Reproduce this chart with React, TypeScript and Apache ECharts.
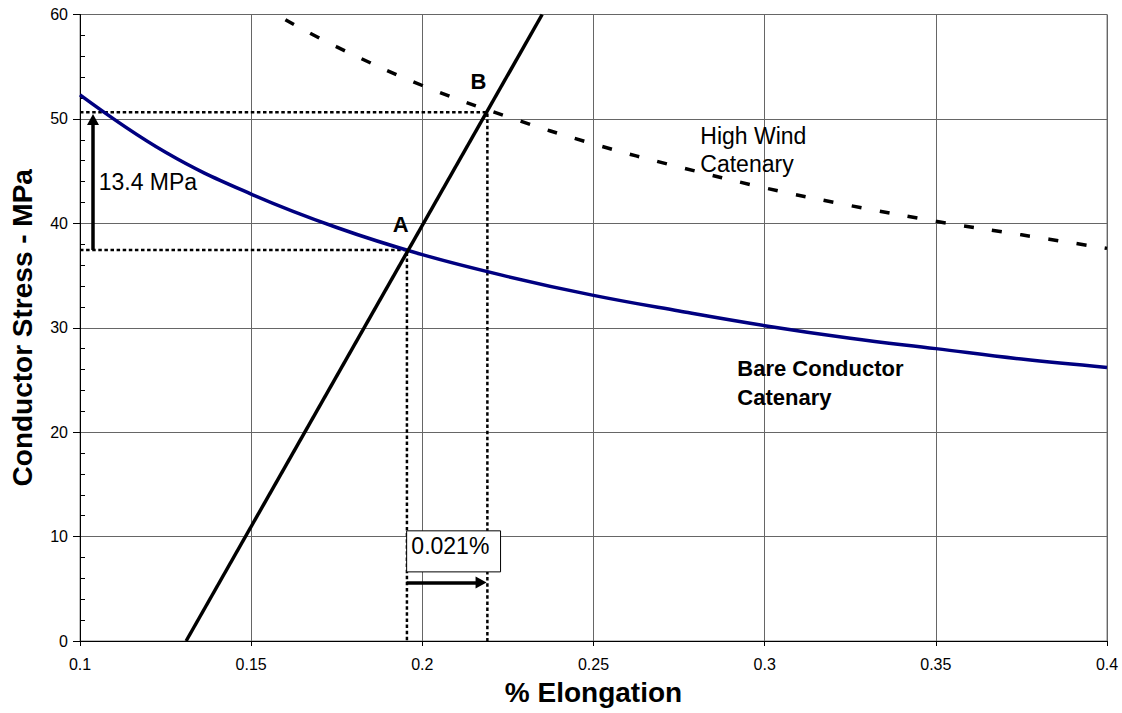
import React, { useEffect, useRef } from "react";
import * as echarts from "echarts";

// ---- data ----
const bareX = [0.1, 0.125, 0.15, 0.175, 0.2, 0.225, 0.25, 0.275, 0.3, 0.325, 0.35, 0.375, 0.4];
const bareY = [52.3, 46.8, 42.8, 39.6, 37.0, 34.9, 33.1, 31.6, 30.2, 29.0, 28.0, 27.0, 26.2];

const windX = [0.16, 0.175, 0.2, 0.225, 0.25, 0.275, 0.3, 0.325, 0.35, 0.375, 0.4];
const windY = [59.5, 56.9, 53.2, 50.2, 47.6, 45.4, 43.4, 41.7, 40.2, 38.9, 37.6];

const loadX = [0.131, 0.235];
const loadY = [0, 60];

const pointA = [0.1955, 37.45];
const pointB = [0.219, 50.65];

// arrows: [x1, y1, x2, y2]
const stressArrow = [0.1038, 37.45, 0.1038, 49.95];
const strainArrow = [0.1954, 5.6, 0.21716, 5.6];

// annotation texts and anchors (data units)
const noteTexts = ["A", "B", "High Wind\nCatenary", "Bare Conductor\nCatenary", "13.4 MPa", "0.021%"];
const noteAnchors = [
  [0.1937, 39.9],
  [0.2164, 53.6],
  [0.2812, 47.0],
  [0.292, 24.7],
  [0.10546, 44.0],
  [0.19679, 9.11],
];
const noteBold = [true, true, false, true, false, false];
const noteCentered = [true, true, false, false, false, false];
const boxCorners = [
  [0.19542, 10.55],
  [0.22285, 6.62],
];

const xTicks = { min: 0.1, max: 0.4, step: 0.05 };
const yTicks = { min: 0, max: 60, step: 10 };

const FONT = "'Liberation Sans', Arial, Helvetica, sans-serif";

const zip = (xs: number[], ys: number[]) => xs.map((x, i) => [x, ys[i]]);

export default function App() {
  const ref = useRef<HTMLDivElement>(null);

  useEffect(() => {
    if (!ref.current) return;
    const chart = echarts.init(ref.current, null, { renderer: "svg" });

    const dotted = {
      color: "#000",
      width: 2.5,
      type: [3.5, 2.6] as any,
      cap: "butt" as any,
    };

    const option: any = {
      animation: false,
      backgroundColor: "#fff",
      textStyle: { fontFamily: FONT },
      grid: {
        left: 79,
        right: 15,
        top: 14.5,
        bottom: 72,
        show: true,
        borderColor: "#808080",
        borderWidth: 1,
        backgroundColor: "transparent",
      },
      xAxis: {
        type: "value",
        min: xTicks.min,
        max: xTicks.max,
        interval: xTicks.step,
        name: "% Elongation",
        nameLocation: "middle",
        nameGap: 37,
        nameTextStyle: { fontSize: 28, fontWeight: "bold", color: "#000", fontFamily: FONT },
        axisLine: { show: true, onZero: false, lineStyle: { color: "#000", width: 1 } },
        axisTick: { show: true, length: 5, lineStyle: { color: "#000" } },
        axisLabel: {
          color: "#000",
          fontSize: 16,
          margin: 15,
          fontFamily: FONT,
          formatter: (v: number) => String(parseFloat(v.toFixed(2))),
        },
        splitLine: { show: true, lineStyle: { color: "#666", width: 1 } },
      },
      yAxis: [
        {
          type: "value",
          min: yTicks.min,
          max: yTicks.max,
          interval: yTicks.step,
          name: "Conductor Stress - MPa",
          nameLocation: "middle",
          nameGap: 44,
          nameTextStyle: { fontSize: 28, fontWeight: "bold", color: "#000", fontFamily: FONT },
          axisLine: { show: true, onZero: false, lineStyle: { color: "#000", width: 1 } },
          axisTick: { show: true, length: 7, lineStyle: { color: "#000" } },
          axisLabel: { color: "#000", fontSize: 16, margin: 12, fontFamily: FONT },
          splitLine: { show: true, lineStyle: { color: "#666", width: 1 } },
        },
        {
          type: "value",
          position: "left",
          min: yTicks.min,
          max: yTicks.max,
          interval: yTicks.step,
          axisLine: { show: false, onZero: false },
          axisTick: { show: false, inside: true },
          minorTick: { show: true, splitNumber: 5, length: 5, lineStyle: { color: "#000", width: 1 } },
          axisLabel: { show: false },
          splitLine: { show: false },
        },
      ],
      series: [
        {
          name: "Bare Conductor Catenary",
          type: "line",
          data: zip(bareX, bareY),
          smooth: 0.4,
          showSymbol: false,
          lineStyle: { color: "#000080", width: 3.5 },
          z: 5,
        },
        {
          name: "High Wind Catenary",
          type: "line",
          data: zip(windX, windY),
          smooth: 0.4,
          showSymbol: false,
          lineStyle: { color: "#000", width: 3.5, type: [10, 18.5], cap: "butt" },
          z: 5,
        },
        {
          name: "Load line",
          type: "line",
          data: zip(loadX, loadY),
          showSymbol: false,
          lineStyle: { color: "#000", width: 3.5 },
          z: 6,
        },
        {
          name: "B guide",
          type: "line",
          data: [
            [xTicks.min, pointB[1]],
            [pointB[0], pointB[1]],
            [pointB[0], yTicks.min],
          ],
          showSymbol: false,
          lineStyle: dotted,
          z: 4,
        },
        {
          name: "A guide",
          type: "line",
          data: [
            [xTicks.min, pointA[1]],
            [pointA[0], pointA[1]],
            [pointA[0], yTicks.min],
          ],
          showSymbol: false,
          lineStyle: dotted,
          z: 4,
        },
        {
          name: "arrows",
          type: "line",
          data: [],
          z: 7,
          markLine: {
            silent: true,
            symbol: ["none", "triangle"],
            symbolSize: [12, 11],
            label: { show: false },
            emphasis: { disabled: true },
            lineStyle: { color: "#000", width: 3.5, type: "solid" },
            data: [
              [
                { coord: [stressArrow[0], stressArrow[1]] },
                { coord: [stressArrow[2], stressArrow[3]] },
              ],
              [
                { coord: [strainArrow[0], strainArrow[1]] },
                { coord: [strainArrow[2], strainArrow[3]] },
              ],
            ],
          },
        },
      ],
    };

    chart.setOption(option);

    const px = (p: number[]) =>
      chart.convertToPixel({ xAxisIndex: 0, yAxisIndex: 0 }, p) as number[];

    const tl = px(boxCorners[0]);
    const br = px(boxCorners[1]);
    const graphics: any[] = [
      {
        type: "rect",
        z: 100,
        shape: { x: tl[0], y: tl[1], width: br[0] - tl[0], height: br[1] - tl[1] },
        style: { fill: "#fff", stroke: "#000", lineWidth: 1 },
        silent: true,
      },
    ];
    noteTexts.forEach((t, i) => {
      const p = px(noteAnchors[i]);
      graphics.push({
        type: "text",
        z: 101,
        x: p[0],
        y: p[1],
        silent: true,
        style: {
          text: t,
          fill: "#000",
          fontFamily: FONT,
          fontSize: noteBold[i] ? 22 : 23,
          fontWeight: noteBold[i] ? "bold" : "normal",
          align: noteCentered[i] ? "center" : "left",
          verticalAlign: "middle",
          lineHeight: 28.5,
        },
      });
    });
    chart.setOption({ graphic: graphics });

    return () => chart.dispose();
  }, []);

  return (
    <div
      ref={ref}
      style={{ position: "absolute", left: 0, top: 0, width: 1122, height: 713, background: "#fff" }}
    />
  );
}
